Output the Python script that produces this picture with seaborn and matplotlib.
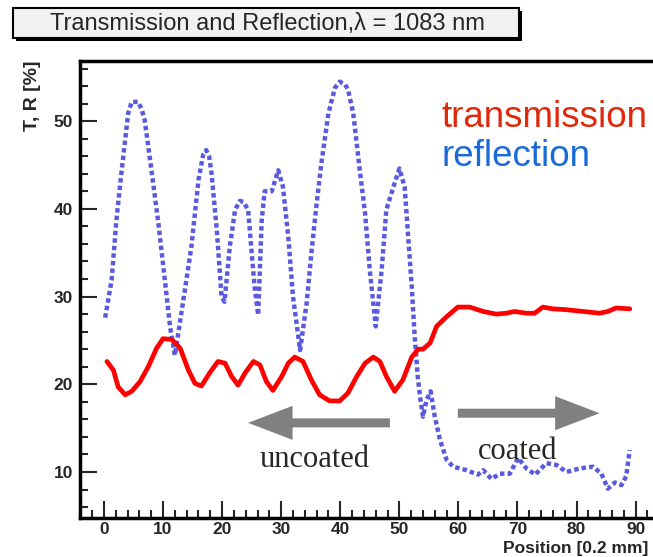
import matplotlib
matplotlib.use("Agg")
import matplotlib.pyplot as plt
import pandas as pd
import seaborn as sns
from matplotlib.patches import Rectangle
from matplotlib.ticker import MultipleLocator

# transmission curve (red, solid)
trans_x = [0.5, 1.6, 2.4, 3.6, 4.7, 6.1, 7.5, 8.9, 10.0, 11.5, 12.9, 14.3, 15.4, 16.5, 17.9,
           19.3, 20.5, 21.6, 22.7, 23.9, 25.3, 26.4, 27.5, 28.6, 30.1, 31.2, 32.3, 33.7,
           35.1, 36.5, 38.2, 39.9, 41.3, 42.8, 44.2, 45.6, 46.7, 47.8, 49.2, 50.6, 52.1,
           53.2, 54.0, 55.2, 56.3, 58.0, 59.9, 61.9, 64.2, 66.4, 68.1, 69.5, 71.5, 72.9,
           74.3, 76.0, 78.3, 81.1, 83.9, 85.3, 86.7, 89.0]
trans_y = [22.6, 21.6, 19.7, 18.8, 19.2, 20.3, 22.0, 24.1, 25.2, 25.1, 24.1, 21.6, 20.1, 19.8,
           21.3, 22.6, 22.4, 20.9, 19.9, 21.3, 22.6, 22.2, 20.3, 19.3, 20.9, 22.4, 23.1,
           22.6, 20.5, 18.8, 18.1, 18.1, 19.0, 20.9, 22.4, 23.1, 22.6, 20.9, 19.2, 20.5,
           23.1, 24.0, 24.0, 24.7, 26.6, 27.7, 28.8, 28.8, 28.3, 28.0, 28.1, 28.3, 28.1,
           28.1, 28.8, 28.6, 28.5, 28.3, 28.1, 28.3, 28.7, 28.6]

# reflection curve (blue, dotted)
refl_x = [0.2, 1.3, 2.1, 3.0, 4.1, 4.7, 5.8, 6.4, 6.9, 8.1, 9.2, 10.3, 11.2, 12.0, 13.1,
          14.8, 16.0, 16.8, 17.3, 17.8, 18.2, 19.1, 19.9, 20.4, 21.3, 22.2, 23.0, 23.6,
          24.4, 25.0, 25.5, 26.1, 26.7, 27.2, 28.4, 29.5, 30.3, 31.2, 32.0, 33.2, 34.3,
          35.1, 36.0, 36.8, 38.0, 39.1, 39.9, 40.8, 41.3, 42.2, 43.3, 44.2, 45.0, 46.0,
          47.0, 47.8, 49.0, 50.0, 50.9, 51.5, 52.1, 52.6, 53.1, 53.5, 54.0, 54.6, 55.3,
          56.0, 56.9, 58.0, 59.1, 61.4, 63.3, 64.2, 65.6, 67.0, 68.7, 70.1, 71.5, 73.0,
          74.9, 76.6, 78.3, 80.5, 82.8, 84.2, 85.3, 86.5, 87.6, 88.4, 89.0]
refl_y = [27.6, 31.9, 38.7, 44.4, 50.9, 52.2, 52.2, 51.3, 50.1, 44.1, 38.4, 31.9, 26.5, 23.3,
          28.1, 35.7, 43.3, 46.2, 46.7, 46.0, 44.1, 37.6, 30.0, 29.4, 35.7, 39.9, 40.9,
          40.8, 39.9, 35.0, 31.1, 27.9, 38.7, 42.0, 42.0, 44.4, 42.5, 36.8, 30.0, 23.9,
          29.2, 34.9, 40.6, 45.2, 50.9, 53.8, 54.5, 54.2, 53.6, 50.9, 44.4, 39.5, 33.0,
          26.6, 33.0, 39.9, 42.5, 44.6, 42.5, 36.8, 31.1, 25.4, 21.0, 18.6, 16.3, 18.2,
          19.2, 16.3, 13.6, 11.4, 10.6, 10.2, 9.7, 10.2, 9.2, 9.8, 9.8, 11.6, 10.4, 9.7,
          11.0, 10.8, 10.0, 10.4, 10.6, 9.8, 8.1, 8.8, 8.5, 9.5, 12.5]

sns.set_style("white")
plt.rcParams["font.family"] = ["Liberation Sans", "DejaVu Sans"]

fig = plt.figure(figsize=(6.53, 5.57), dpi=100)
ax = fig.add_axes([0.1225, 0.070, 0.888, 0.8205])

trans = pd.DataFrame({"x": trans_x, "y": trans_y})
refl = pd.DataFrame({"x": refl_x, "y": refl_y})
sns.lineplot(data=refl, x="x", y="y", sort=False, estimator=None, color="#5a5ade",
             linewidth=3.2, linestyle=(0, (1, 0.7)), ax=ax)
sns.lineplot(data=trans, x="x", y="y", sort=False, estimator=None, color="#ff0000",
             linewidth=3.4, solid_joinstyle="round", solid_capstyle="round", ax=ax)

ax.set_xlim(-4.06, 94.1)
ax.set_ylim(4.75, 56.86)
ax.xaxis.set_major_locator(MultipleLocator(10))
ax.xaxis.set_minor_locator(MultipleLocator(2))
ax.yaxis.set_major_locator(MultipleLocator(10))
ax.yaxis.set_minor_locator(MultipleLocator(2))
ax.tick_params(which="major", direction="in", length=12, width=1.5, labelsize=12.5, pad=5)
ax.tick_params(axis="x", which="major", pad=3)
ax.tick_params(which="minor", direction="in", length=6, width=1.5)
ax.tick_params(axis="both", which="both", bottom=True, left=True, top=False, right=False)
for lab in ax.get_xticklabels() + ax.get_yticklabels():
    lab.set_fontweight("bold")
for sp in ax.spines.values():
    sp.set_linewidth(2.5)
    sp.set_color("black")

ax.set_xlabel("Position [0.2 mm]", fontsize=12.5, fontweight="bold", loc="right")
ax.xaxis.label.set_verticalalignment("bottom")
ax.xaxis.set_label_coords(0.981, -0.0825)
ax.set_ylabel("T, R [%]", fontsize=14, fontweight="bold", loc="top")
ax.yaxis.set_label_coords(-0.068, 1.0)

# legend-like labels
ax.text(0.624, 0.856, "transmission", transform=ax.transAxes, fontsize=26.5,
        color="#e0280a", va="baseline")
ax.text(0.624, 0.770, "reflection", transform=ax.transAxes, fontsize=26.5,
        color="#1a6ad8", va="baseline")

# arrows with coated / uncoated labels
arrow_style = "simple,head_length=3.2,head_width=2.45,tail_width=0.65"
ax.annotate("", xy=(24.4, 15.6), xytext=(48.4, 15.6),
            arrowprops=dict(arrowstyle=arrow_style, color="#808080", lw=0,
                            shrinkA=0, shrinkB=0, mutation_scale=10))
ax.annotate("", xy=(83.9, 16.7), xytext=(59.9, 16.7),
            arrowprops=dict(arrowstyle=arrow_style, color="#808080", lw=0,
                            shrinkA=0, shrinkB=0, mutation_scale=10))
ax.text(35.7, 11.4, "uncoated", fontsize=22, family="Liberation Serif", ha="center", va="center")
ax.text(70.0, 12.3, "coated", fontsize=22, family="Liberation Serif", ha="center", va="center")

# title box with shadow
fig.patches.append(Rectangle((0.0245, 0.9264), 0.7750, 0.0540, transform=fig.transFigure,
                             facecolor="black", edgecolor="none"))
fig.patches.append(Rectangle((0.0199, 0.9318), 0.7750, 0.0540, transform=fig.transFigure,
                             facecolor="#f2f2f2", edgecolor="black", linewidth=1.5))
fig.text(0.410, 0.9576, "Transmission and Reflection,\u03bb = 1083 nm", fontsize=17,
         ha="center", va="center")

fig.savefig("out.png", dpi=100)
